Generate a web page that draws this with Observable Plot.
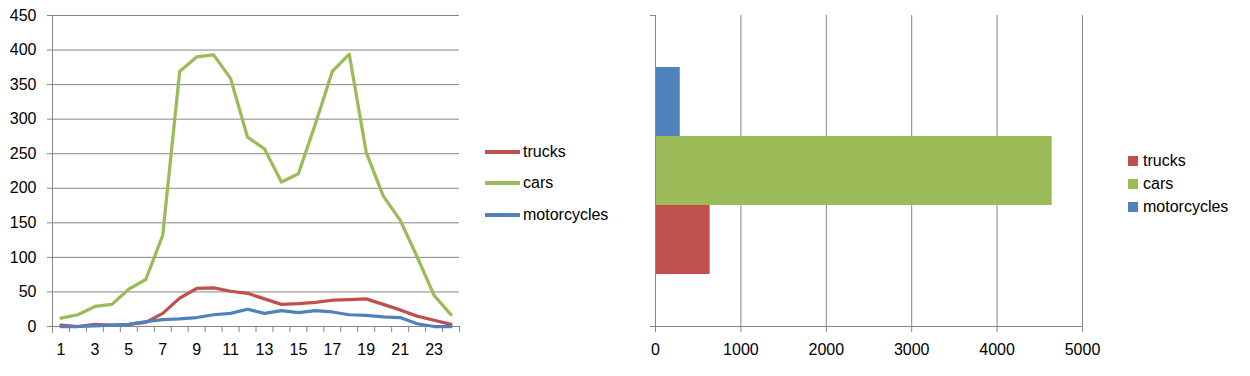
<!DOCTYPE html>
<html><head><meta charset="utf-8">
<script src="https://cdn.jsdelivr.net/npm/d3@7"></script>
<script src="https://cdn.jsdelivr.net/npm/@observablehq/plot@0.6"></script>
<style>
body{margin:0;background:#fff;font-family:"Liberation Sans",Arial,sans-serif;}
#wrap{position:relative;width:1250px;height:376px;overflow:hidden;background:#fff;}
.panel{position:absolute;top:0;}
.legend{position:absolute;font-size:16px;color:#000;}
.legend .row{position:absolute;left:0;height:20px;white-space:nowrap;display:flex;align-items:center;}
.legend .line{display:inline-block;width:35px;height:3.5px;margin-right:3px;}
.legend .sq{display:inline-block;width:10px;height:10px;margin-right:5px;}
</style></head><body><div id="wrap"></div><script>
// ---- data ----
const hours = [1,2,3,4,5,6,7,8,9,10,11,12,13,14,15,16,17,18,19,20,21,22,23,24];
const trucks = [2,0,3,2,3,6,19,41,55,56,51,48,40,32,33,35,38,39,40,32,24,15,9,3];
const cars = [12,17,29,32,54,68,132,369,390,393,359,274,257,209,221,293,369,394,252,189,154,101,45,17];
const motorcycles = [0,0,1,2,3,7,10,11,13,17,19,25,19,23,20,23,21,17,16,14,13,4,0,0];
const seriesNames = ["trucks","cars","motorcycles"];
const totalValues = [640, 4645, 290]; // trucks, cars, motorcycles
const yTicks = [0,50,100,150,200,250,300,350,400,450];
const xTickLabels = [1,3,5,7,9,11,13,15,17,19,21,23];
const totalTicks = [0,1000,2000,3000,4000,5000];

// ---- styles ----
const seriesColors = ["#C0504D","#9BBB59","#4F81BD"];
const gray = "#868686";
const font = "'Liberation Sans', Arial, sans-serif";

const bySeries = {trucks, cars, motorcycles};
const rows = seriesNames.flatMap(s => hours.map((h, i) => ({hour: h, series: s, value: bySeries[s][i]})));
const totalRows = seriesNames.map((s, i) => ({series: s, value: totalValues[i]}));
const boundaries = hours.map(h => h - 0.5).concat([hours[hours.length - 1] + 0.5]);

const wrap = document.getElementById("wrap");

const LW = 470, LH = 376, LML = 52, LMR = 11, LMT = 15, LMB = 50;
const left = Plot.plot({
  width: LW, height: LH,
  marginLeft: LML, marginRight: LMR, marginTop: LMT, marginBottom: LMB,
  style: {fontFamily: font, fontSize: "16px", color: "#000", background: "transparent", overflow: "visible"},
  x: {type: "linear", domain: [hours[0] - 0.5, hours[hours.length - 1] + 0.5]},
  y: {domain: [0, 450]},
  color: {domain: seriesNames, range: seriesColors},
  marks: [
    Plot.gridY(yTicks, {stroke: gray, strokeOpacity: 1}),
    Plot.axisY(yTicks, {tickSize: 5, tickPadding: 11, stroke: gray, fill: "#000", label: null, tickFormat: d => String(d)}),
    Plot.axisX(boundaries, {tickSize: 6, tickFormat: () => "", stroke: gray, label: null}),
    Plot.axisX(xTickLabels, {tickSize: 0, tickPadding: 17, fill: "#000", label: null, tickFormat: d => String(d)}),
    Plot.frame({anchor: "bottom", insetLeft: -5, stroke: gray}),
    Plot.frame({anchor: "left", insetBottom: -6, stroke: gray}),
    Plot.lineY(rows, {x: "hour", y: "value", z: "series", stroke: "series", strokeWidth: 3.25, strokeLinejoin: "round"})
  ]
});
left.classList.add("panel");
left.style.left = "0px";
wrap.appendChild(left);

const RW = 500, RH = 376, RML = 55, RMR = 18, RMT = 15, RMB = 50;
const right = Plot.plot({
  width: RW, height: RH,
  marginLeft: RML, marginRight: RMR, marginTop: RMT, marginBottom: RMB,
  style: {fontFamily: font, fontSize: "16px", color: "#000", background: "transparent", overflow: "visible"},
  x: {domain: [0, 5000]},
  y: {domain: ["motorcycles","cars","trucks"], paddingInner: 0, paddingOuter: 0.745, axis: null},
  color: {domain: seriesNames, range: seriesColors},
  marks: [
    Plot.gridX(totalTicks, {stroke: gray, strokeOpacity: 1}),
    Plot.axisX(totalTicks, {tickSize: 6, tickPadding: 11, stroke: gray, fill: "#000", label: null, tickFormat: d => String(d)}),
    Plot.barX(totalRows, {x: "value", y: "series", fill: "series"}),
    Plot.ruleX([0], {stroke: gray}),
    Plot.frame({anchor: "bottom", insetLeft: -5, stroke: gray}),
    Plot.frame({anchor: "top", insetLeft: -5, insetRight: RW - RML - RMR, stroke: gray})
  ]
});
right.classList.add("panel");
right.style.left = "600px";
wrap.appendChild(right);

// ---- legends ----
function legend(x, centers, kind) {
  const lg = document.createElement("div");
  lg.className = "legend";
  lg.style.left = x + "px";
  lg.style.top = "0px";
  seriesNames.forEach((s, i) => {
    const r = document.createElement("div");
    r.className = "row";
    r.style.top = (centers[i] - 10) + "px";
    const sw = document.createElement("span");
    sw.className = kind;
    sw.style.background = seriesColors[i];
    const t = document.createElement("span");
    t.textContent = s;
    r.appendChild(sw); r.appendChild(t);
    lg.appendChild(r);
  });
  wrap.appendChild(lg);
}
legend(485, [152, 183, 215], "line");
legend(1128, [161, 184, 207], "sq");
</script></body></html>
